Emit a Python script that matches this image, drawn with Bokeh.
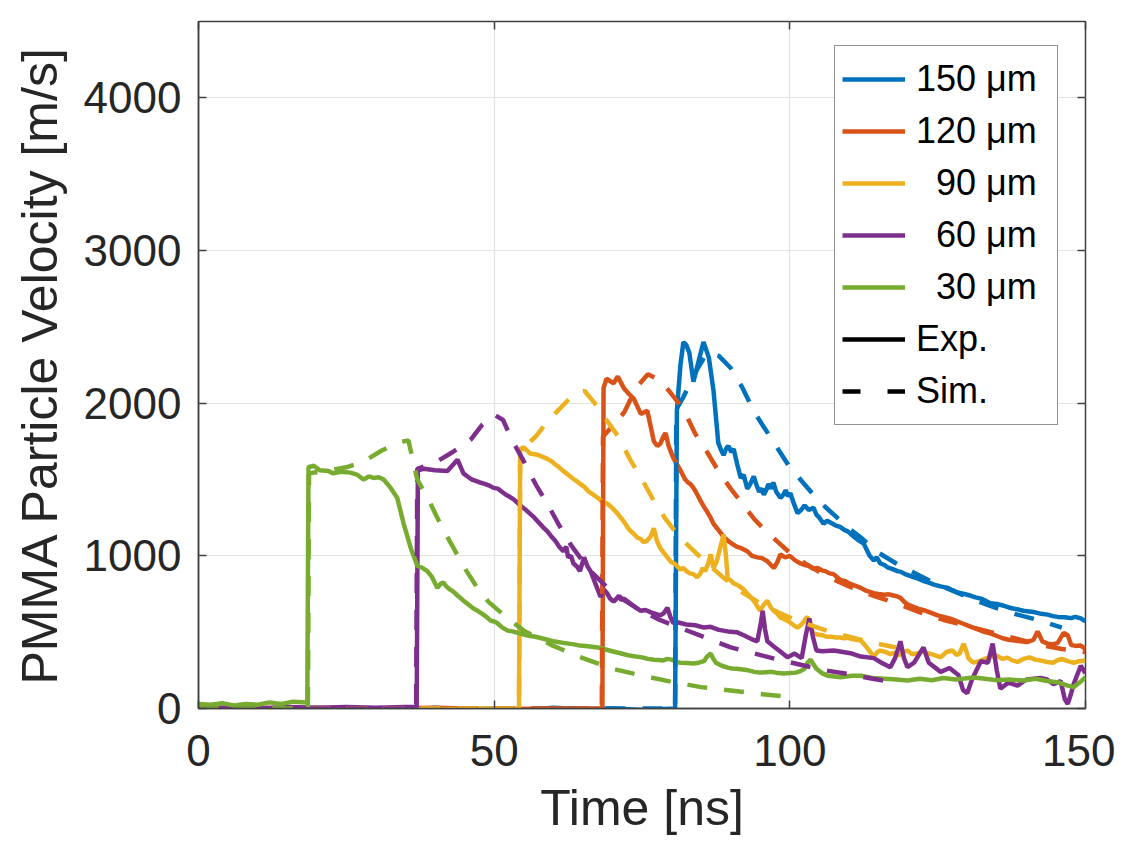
from bokeh.plotting import figure
from bokeh.models import Range1d, LinearAxis, Legend, LegendItem, FixedTicker
from bokeh.embed import file_html
from bokeh.resources import INLINE

FONT = "Liberation Sans"

sizes = ["150", "120", "\u200790", "\u200760", "\u200730"]
unit = "\u03bcm"
colors = ["#0072BD", "#D95319", "#EDB120", "#7E2F8E", "#77AC30"]
x_ticks = [0, 50, 100, 150]
y_ticks = [0, 1000, 2000, 3000, 4000]
X_MAX, Y_MAX = 150, 4500

# ---------------- Experimental (solid) ----------------
exp_t_150 = [0, 4, 8, 12, 16, 20, 25, 30, 35, 40, 45, 50, 55, 60, 65, 70, 75, 80.6,
             80.9, 81.5, 82, 82.5, 83, 83.7, 84.6, 85.4, 86.3,
             87.1, 87.9, 88.4, 88.8, 89.2, 89.6, 90.1, 90.5, 91.1, 91.7, 92.2, 92.8, 93.3,
             93.9, 94.4, 94.8, 95.3, 95.6, 96, 96.4, 96.8, 97.2, 97.7, 98.4, 98.9, 99.3,
             99.7, 100.1, 100.7, 101.3, 101.9, 102.5, 103.2, 104, 104.5, 105, 105.7, 106.3,
             107, 107.7, 108.5, 109.2, 109.8, 110.4, 111, 111.7, 112.5, 113, 113.5, 114.2,
             114.7, 115.3, 116, 116.5, 117.3, 118.2, 118.8, 119.5, 120.2, 120.9, 121.7,
             122.6, 123.5, 124.5, 125.5, 126.7, 127.5, 128.4, 129.5, 130.5, 131.4, 132.3,
             133.1, 133.9, 135, 136, 137, 137.8, 138.7, 139.5, 140.5, 141.5, 142.5, 143.6,
             144.5, 145.3, 146.5, 147.5, 148.3, 149.2, 150]
exp_v_150 = [-10, 5, -15, 0, -10, 5, -10, 0, -15, 5, -10, 0, -10, 5, -5, 0, -10, 0,
             1950, 2250, 2400, 2380, 2330, 2140, 2280, 2400, 2300,
             2080, 1740, 1690, 1660, 1700, 1720, 1680, 1700, 1600, 1510, 1530, 1440, 1470,
             1520, 1460, 1420, 1440, 1400, 1430, 1470, 1440, 1480, 1420, 1380, 1400, 1430,
             1390, 1410, 1340, 1280, 1300, 1330, 1300, 1315, 1270, 1250, 1210, 1230,
             1215, 1200, 1190, 1170, 1160, 1140, 1120, 1100, 1080, 1040, 1000, 970,
             990, 950, 940, 925, 915, 900, 895, 880, 870, 860, 850,
             835, 825, 810, 800, 790, 775, 760, 750, 740, 728, 720,
             705, 690, 685, 675, 662, 655, 648, 640, 635, 630, 620, 615,
             605, 600, 598, 592, 600, 590, 570]

exp_t_120 = [0, 10, 20, 30, 40, 50, 60, 68.3,
             68.5, 69, 70.2, 70.9, 71.9, 72.8, 73.6, 74.8, 75.9,
             77, 77.6, 78.1, 78.6, 79, 79.5, 80.3, 80.9, 81.5, 82.3, 82.8, 83.2, 83.7, 84.1,
             84.5, 84.9, 85.5, 86, 86.6, 87.1, 87.7, 88.3, 88.9, 89.5, 90.2, 91, 91.8, 92.8,
             93.6, 94.5, 95.3, 96.2, 96.8, 97.3, 97.9, 98.4, 99.2, 100, 100.9, 101.8, 102.5,
             103.2, 104, 104.7, 105.4, 106, 106.7, 107.4, 108, 108.6, 109.3, 110, 111, 112,
             113, 114.2, 115, 116, 116.8, 117.5, 118.1, 118.7, 119.3, 120, 121, 122, 123,
             124, 125, 126, 127, 128, 129, 130, 131, 132, 133, 134, 135, 136, 137, 138, 139,
             140, 141.2, 141.9, 142.7, 143.6, 144.5, 145.3, 146.3, 147, 147.6, 148.3, 149.2,
             150]
exp_v_120 = [0, 5, -5, 0, 5, -5, 0, 0,
             2100, 2160, 2130, 2175, 2100, 2060, 2030, 1930, 1950,
             1750, 1720, 1735, 1780, 1805, 1720, 1640, 1600, 1560, 1500, 1480, 1470, 1445, 1420,
             1390, 1360, 1320, 1290, 1250, 1210, 1180, 1150, 1120, 1100, 1080, 1060, 1050, 1030,
             1000, 990, 985, 965, 940, 920, 960, 1010, 990, 1000, 970, 950, 940,
             935, 915, 920, 905, 900, 885, 880, 860, 840, 835, 820, 805, 790,
             770, 755, 750, 745, 748, 740, 735, 725, 700, 680, 665, 650, 640,
             625, 610, 600, 590, 575, 560, 545, 530, 515, 500, 490, 475, 460, 450, 445, 440,
             435, 450, 505, 440, 425, 420, 430, 495, 480, 415, 410, 412,
             390]

exp_t_90 = [0, 10, 20, 30, 40, 50, 54.2,
            54.4, 55, 56.1, 57.5,
            59, 59.7, 60.3, 61, 61.7, 62.4, 63.2, 63.9, 64.6, 65.3, 66, 66.8, 67.5, 68.3, 69.2,
            69.8, 70.3, 70.9, 71.4, 72, 72.5, 73, 73.6, 74.2, 74.8, 75.3, 75.9, 76.5, 77, 77.5,
            78.1, 78.7, 79.3, 79.9, 80.5, 81, 81.5, 82, 82.5, 83.1, 83.7, 84.3, 84.8, 85.3,
            85.7, 86.2, 86.6, 87.1, 87.6, 88.2, 88.8, 89.2, 89.5, 90, 90.5, 91, 91.5, 92.2,
            92.8, 93.4, 94, 94.5, 95, 95.6, 96.2, 96.8, 97.3, 97.9, 98.4, 99.1, 99.8, 100.5,
            101.3, 101.8, 102.2, 102.7, 103, 103.5, 104, 104.7, 105.5, 106.2, 107, 107.8,
            108.5, 109.2, 109.8, 110.5, 111.3, 112, 112.6, 113.2, 113.8, 114.2, 114.8, 115.3,
            116.2, 117, 117.5, 118.5, 119.2, 119.9, 120.7, 121.5, 122.5, 123.5, 124.5, 125.5,
            126.5, 127.5, 128.2, 128.7, 129.4, 129.8, 130.2, 130.7, 131.1, 132, 133, 134, 135,
            136, 136.8, 137.6, 138.5, 139.5, 140.5, 141.5, 142.4, 143.5, 144.5, 145.2, 146,
            147, 148, 149, 150]
exp_v_90 = [0, 0, 5, 0, -5, 0, 0,
            1700, 1710, 1670, 1660,
            1635, 1620, 1600, 1580, 1555, 1535, 1510, 1490, 1470, 1450, 1420, 1400, 1380, 1355, 1340,
            1320, 1300, 1275, 1250, 1220, 1190, 1165, 1145, 1120, 1110, 1090, 1100, 1130, 1180, 1100,
            1050, 1020, 990, 960, 950, 930, 910, 920, 900, 885, 880, 860, 880, 920,
            900, 950, 1010, 920, 960, 1050, 1140, 1000, 850, 840, 820, 810, 800, 780,
            752, 730, 700, 670, 641, 680, 706, 660, 640, 620, 595, 585, 570, 550,
            529, 545, 560, 590, 600, 540, 490, 485, 480, 470, 470, 465,
            465, 460, 464, 455, 450, 445, 420, 390, 360, 340, 370, 379,
            370, 355, 365, 350, 370, 380, 355, 360, 375, 360, 350, 335,
            370, 380, 350, 360, 425, 380, 330, 310, 300, 310, 325, 340, 345,
            325, 333, 315, 305, 325, 335, 320, 315, 305, 300, 315, 325,
            310, 300, 310, 315]

exp_t_60 = [0, 5, 10, 15, 20, 25, 30, 35, 36.9,
            37.1, 38.1, 40, 42.1, 43.8,
            44.8, 45.5, 46.2, 47, 47.7, 48.5, 49.2, 49.9, 50.6, 51.3, 52, 52.7, 53.3, 54, 54.7,
            55.4, 56.1, 56.8, 57.5, 58.2, 59, 59.6, 60.3, 61, 61.7, 62.2, 62.5, 63, 63.4, 64,
            64.5, 65.2, 65.8, 66.3, 66.8, 67.4, 68, 68.5, 69, 69.6, 70.2, 70.7, 71.1, 71.5,
            71.9, 72.6, 73.3, 74, 74.8, 75.6, 76.5, 77.3, 78.1, 78.7, 79.3, 79.8,
            80.3, 81, 82.5, 84, 85.5, 86.6, 88, 89.5,
            91, 92.2, 93.5, 94.5, 95.1, 95.4, 95.8, 96.2, 97.5, 98.5, 99.6, 100.8, 102,
            102.7, 103.3, 103.9, 104.5, 105.5, 107.4, 109, 110.5, 112, 114.2, 115.5, 117,
            117.8, 118.7, 119.3, 119.9, 121, 122.6, 123.5, 125.5, 127, 128.5, 129.3, 130,
            130.8, 132.3, 133.5, 134.3, 135, 135.6, 137, 138.5, 140, 142.4, 143.5, 144.6,
            145.8, 146.5, 147, 147.5, 148, 149.2, 150]
exp_v_60 = [0, 5, 0, 10, 5, 10, 5, 10, 10,
            1560, 1570, 1560, 1555, 1630,
            1540, 1520, 1500, 1490, 1480, 1470, 1460, 1445, 1440, 1420, 1400, 1385, 1370, 1345, 1320,
            1300, 1275, 1250, 1220, 1190, 1160, 1130, 1100, 1060, 1030, 1060, 990, 1000, 950, 930,
            900, 990, 930, 900, 850, 790, 730, 780, 760, 720, 700, 720, 740, 710,
            720, 700, 680, 660, 640, 645, 630, 620, 610, 625, 660, 600,
            560, 565, 550, 545, 530, 535, 515, 505,
            500, 480, 455, 440, 560, 640, 520, 440, 400, 370, 335, 360, 330,
            480, 590, 470, 380, 375, 380, 370, 360, 340, 330, 300, 270,
            330, 440, 330, 270, 300, 400, 300, 240, 265, 220, 120, 100,
            190, 310, 300, 425, 250, 130, 170, 150, 190, 200, 190, 160,
            180, 60, 30, 90, 160, 280, 230]

exp_t_30 = [0, 2, 4, 6, 8, 10, 12, 14, 16, 18.4,
            18.6, 19.5, 20.5, 22, 22.8, 24, 25.7, 26.9, 27.9, 28.8, 29.6, 30.5, 31.3, 32.5,
            33.6, 34.7, 35.9,
            37, 37.9, 38.7, 39.1, 39.5, 40, 40.4, 40.9, 41.4, 41.9, 42.5, 43.1, 43.8, 44.4,
            45, 45.7, 46.5, 47.2, 48, 48.7, 49.4, 50, 50.5, 51.4, 52.3, 53.1, 54, 55, 56.1,
            57, 58, 59, 60, 60.8, 61.7, 62.6, 63.5, 64.5, 65.5, 66.5, 67.5, 68.5, 69.5, 70.3,
            71, 72, 73.1, 74, 75, 76, 77, 77.8, 78.6, 79.3, 80, 80.8, 81.5, 82.6, 83.7, 84.6,
            85.5, 86, 86.6, 87, 87.5, 88.5, 89.5, 90.2, 91, 92, 93, 94, 95, 96, 97, 98, 99,
            100, 101, 101.8, 102.5, 103, 103.5, 104, 104.5, 105.5, 106.4,
            108.6, 110.5, 112, 114, 116, 118, 119.9, 122, 124, 126, 128,
            131.1, 133, 135, 137, 139.5, 141.5, 143.5, 145.5, 147, 148, 149, 150]
exp_v_30 = [30, 25, 35, 20, 30, 25, 40, 30, 45, 40,
            1580, 1590, 1560, 1555, 1540, 1550, 1545, 1530, 1500, 1520, 1510, 1515, 1500, 1445,
            1380, 1210, 1050,
            935, 920, 900, 880, 860, 820, 790, 815, 825, 800, 780, 765, 740, 720,
            700, 680, 655, 640, 620, 600, 575, 570, 560, 530, 510, 505, 495, 485, 475,
            470, 460, 450, 440, 435, 430, 425, 420, 412, 410, 405, 400, 390, 380, 372,
            365, 355, 345, 340, 335, 325, 320, 318, 315, 325, 320, 305, 300, 298, 295, 300,
            310, 340, 360, 330, 300, 280, 268, 262, 260, 255, 250, 240, 235, 238, 240, 232, 230,
            232, 235, 245, 260, 300, 320, 290, 260, 230, 215,
            205, 215, 215, 200, 195, 190, 183, 195, 185, 200, 190,
            203, 195, 185, 190, 183, 195, 180, 170, 150, 140, 170, 205]

# ---------------- Simulation (dashed) ----------------
sim_t_150 = [0, 80.6, 80.8, 82, 84, 86, 88, 90, 92, 94, 96, 98, 100, 102, 104, 106, 108,
             110, 112, 115, 118, 121, 124, 127, 130, 134, 138, 142, 146]
sim_v_150 = [0, 0, 1960, 2040, 2200, 2330, 2310, 2230, 2100, 1940, 1820, 1700, 1580, 1490,
             1400, 1320, 1250, 1180, 1120, 1020, 950, 890, 830, 780, 730, 670, 620, 580, 530]

sim_t_120 = [0, 68.2, 68.4, 70, 72, 74, 76, 78, 80, 82, 84, 86, 88, 90, 92, 94, 96, 98,
             100, 103, 106, 110, 114, 118, 122, 126, 130, 134, 138, 142, 146, 150]
sim_v_120 = [0, 0, 1780, 1850, 1940, 2100, 2190, 2150, 2060, 1960, 1800, 1680, 1550, 1440,
             1340, 1240, 1160, 1090, 1020, 940, 870, 800, 740, 690, 630, 580, 540, 500, 460,
             420, 390, 370]

sim_t_90 = [0, 54.2, 54.4, 57, 59, 61.5, 63.5, 65.3, 67, 69, 71, 73, 75, 77, 79, 81, 83,
            86, 89, 92, 95, 98, 101, 104, 107, 110, 114, 118]
sim_v_90 = [0, 0, 1690, 1780, 1880, 1980, 2060, 2080, 2000, 1890, 1780, 1630, 1500, 1360,
            1240, 1140, 1060, 950, 850, 760, 690, 630, 580, 540, 500, 470, 430, 400]

sim_t_60 = [0, 36.8, 37, 40, 43, 46, 48, 50, 51.5, 53, 55, 57, 59, 61, 63, 66, 70, 74, 78,
            82, 86, 90, 94, 98, 102, 106, 110, 114, 118]
sim_v_60 = [0, 0, 1570, 1610, 1680, 1760, 1860, 1925, 1890, 1760, 1620, 1470, 1340, 1200,
            1070, 910, 760, 660, 580, 520, 460, 400, 360, 320, 285, 250, 225, 195, 170]

sim_t_30 = [0, 18.5, 18.7, 22, 25, 28, 31, 34, 35.5, 37, 39, 41, 43, 45, 47, 49, 52, 55,
            60, 65, 70, 75, 80, 85, 90, 95, 100]
sim_v_30 = [0, 0, 1540, 1560, 1580, 1620, 1690, 1745, 1755, 1500, 1360, 1200, 1060, 920,
            800, 700, 600, 510, 410, 330, 260, 215, 175, 140, 118, 95, 75]

exp_t = [exp_t_150, exp_t_120, exp_t_90, exp_t_60, exp_t_30]
exp_v = [exp_v_150, exp_v_120, exp_v_90, exp_v_60, exp_v_30]
sim_t = [sim_t_150, sim_t_120, sim_t_90, sim_t_60, sim_t_30]
sim_v = [sim_v_150, sim_v_120, sim_v_90, sim_v_60, sim_v_30]

AX = "#404040"
TXT = "#262626"
FRAME_W, FRAME_H = 887, 687

p = figure(frame_width=FRAME_W, frame_height=FRAME_H,
           x_range=Range1d(0, X_MAX), y_range=Range1d(0, Y_MAX),
           output_backend="svg", toolbar_location=None,
           min_border_left=198, min_border_top=21, min_border_right=30,
           min_border_bottom=128)
p.background_fill_color = "white"
p.border_fill_color = "white"
p.outline_line_color = AX
p.outline_line_width = 1.5

p.xgrid.grid_line_color = "#e2e2e2"
p.ygrid.grid_line_color = "#e2e2e2"
p.xgrid.grid_line_width = 1.2
p.ygrid.grid_line_width = 1.2

for ax, ticks in ((p.xaxis[0], x_ticks), (p.yaxis[0], y_ticks)):
    ax.ticker = FixedTicker(ticks=ticks)
    ax.major_tick_in = 8
    ax.major_tick_out = 0
    ax.minor_tick_line_color = None
    ax.major_tick_line_color = AX
    ax.major_tick_line_width = 1.5
    ax.axis_line_color = AX
    ax.axis_line_width = 1.5
    ax.major_label_text_font = FONT
    ax.major_label_text_font_size = "44px"
    ax.major_label_text_color = TXT
    ax.axis_label_text_font = FONT
    ax.axis_label_text_font_size = "50px"
    ax.axis_label_text_font_style = "normal"
    ax.axis_label_text_color = TXT

p.xaxis.axis_label = "Time [ns]"
p.yaxis.axis_label = "PMMA Particle Velocity [m/s]"
p.xaxis.major_label_standoff = 26
p.yaxis.major_label_standoff = 17
p.xaxis.axis_label_standoff = 11
p.yaxis.axis_label_standoff = 13

for loc, ticks in (("above", x_ticks), ("right", y_ticks)):
    a = LinearAxis(ticker=FixedTicker(ticks=ticks))
    a.major_tick_in = 8
    a.major_tick_out = 0
    a.minor_tick_line_color = None
    a.major_tick_line_color = AX
    a.major_tick_line_width = 1.5
    a.axis_line_color = None
    a.major_label_text_color = None
    a.major_label_text_font_size = "1px"
    a.major_label_standoff = 0
    p.add_layout(a, loc)

exp_renderers = []
for t, v, c in zip(exp_t, exp_v, colors):
    exp_renderers.append(p.line(t, v, line_color=c, line_width=4.5))
for t, v, c in zip(sim_t, sim_v, colors):
    p.line(t, v, line_color=c, line_width=4.5, line_dash="20 17")

# legend-only renderers (a single NaN point: nothing is drawn in the plot)
nan = float("nan")
dummy_exp = p.line([nan], [nan], line_color="black", line_width=4.5)
dummy_sim = p.line([nan], [nan], line_color="black", line_width=4.5, line_dash="18 27")

items = [LegendItem(label=f"{s} {unit}", renderers=[r]) for s, r in zip(sizes, exp_renderers)]
items.append(LegendItem(label="Exp.", renderers=[dummy_exp]))
items.append(LegendItem(label="Sim.", renderers=[dummy_sim]))

LEG_LEFT, LEG_BOTTOM = 636, 283
ROW_H, PAD = 52, 7
legend = Legend(items=items, location=(LEG_LEFT, LEG_BOTTOM))
legend.label_text_font = FONT
legend.label_text_font_size = "36px"
legend.label_text_color = "black"
legend.glyph_width = 63
legend.glyph_height = ROW_H
legend.label_height = ROW_H
legend.label_width = 134
legend.label_standoff = 11
legend.spacing = 0
legend.padding = PAD
legend.margin = 0
legend.border_line_color = TXT
legend.border_line_width = 1.5
legend.background_fill_color = "white"
legend.background_fill_alpha = 1.0
p.add_layout(legend)

open("out.html", "w").write(file_html(p, INLINE))
